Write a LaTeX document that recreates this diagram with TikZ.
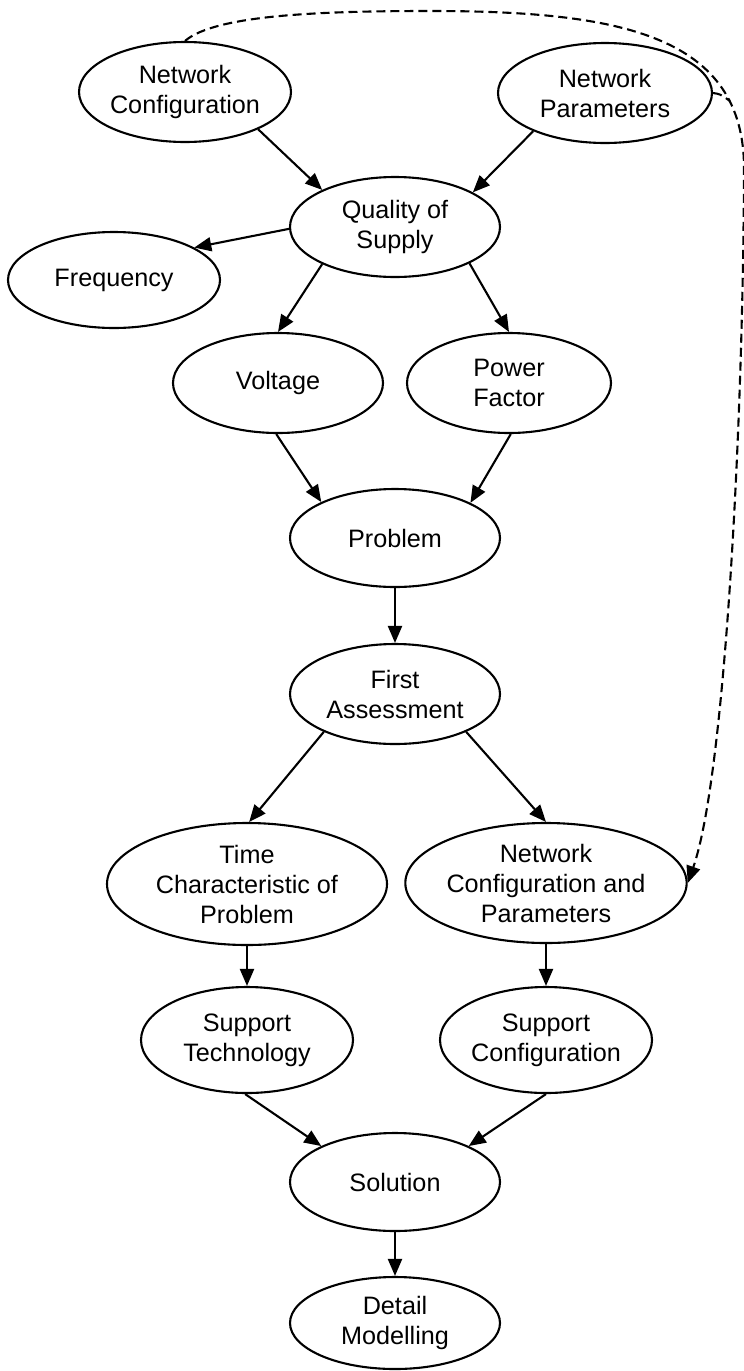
\documentclass[tikz,border=0pt]{standalone}
\usepackage{fontspec}
\setmainfont{Liberation Sans}
\usetikzlibrary{shapes.geometric,arrows.meta}
\begin{document}
\begin{tikzpicture}[x=1pt,y=-1pt,
  ell/.style={ellipse,draw,line width=2.1pt,inner sep=0pt,align=center,
    font=\fontsize{25.2}{30}\selectfont},
  tip/.style={-{Triangle[length=17pt,width=14pt]}},
  arr/.style={line width=2.1pt,tip},
  dsh/.style={line width=2.1pt,dash pattern=on 9pt off 5pt}]
\useasboundingbox (0,0) rectangle (744,1371);
\node[ell,minimum width=210pt,minimum height=100pt] (nc) at (185,92) {Network\\Configuration};
\node[ell,minimum width=214pt,minimum height=100pt] (np) at (605,93) {Network\\Parameters};
\node[ell,minimum width=210pt,minimum height=100pt] (qs) at (395,227) {Quality of\\Supply};
\node[ell,minimum width=212pt,minimum height=96pt] (fr) at (114,280) {Frequency};
\node[ell,minimum width=210pt,minimum height=100pt] (vo) at (278,383) {Voltage};
\node[ell,minimum width=204pt,minimum height=100pt] (pf) at (509,383) {Power\\Factor};
\node[ell,minimum width=210pt,minimum height=98pt] (pr) at (395,538) {Problem};
\node[ell,minimum width=210pt,minimum height=100pt] (fa) at (395,694) {First\\Assessment};
\node[ell,minimum width=280pt,minimum height=122pt] (tc) at (247,884) {Time\\Characteristic of\\Problem};
\node[ell,minimum width=280pt,minimum height=120pt] (ncp) at (546,883) {Network\\Configuration and\\Parameters};
\node[ell,minimum width=212pt,minimum height=106pt] (st) at (247,1040) {Support\\Technology};
\node[ell,minimum width=212pt,minimum height=106pt] (sc) at (546,1040) {Support\\Configuration};
\node[ell,minimum width=210pt,minimum height=98pt] (so) at (395,1182) {Solution};
\node[ell,minimum width=210pt,minimum height=92pt] (dm) at (395,1323) {Detail\\Modelling};

\draw[arr] (nc.-27.5) -- (qs.153.7);
\draw[arr] (np.208) -- (qs.24.4);
\draw[arr] (qs.181) -- (fr.22);
\draw[arr] (qs.207.5) -- (vo.north);
\draw[arr] (qs.-26) -- (pf.north);
\draw[arr] (vo.268) -- (pr.154);
\draw[arr] (pf.272) -- (pr.25);
\draw[arr] (pr.south) -- (fa.north);
\draw[arr] (fa.208) -- (tc.88);
\draw[arr] (fa.-28) -- (ncp.north);
\draw[arr] (tc.south) -- (st.north);
\draw[arr] (ncp.south) -- (sc.north);
\draw[arr] (st.268) -- (so.154);
\draw[arr] (sc.south) -- (so.26);
\draw[arr] (so.south) -- (dm.north);

\coordinate (mrg) at (730,101);
\draw[dsh,tip] (nc.north) .. controls (215,15) and (320,11) .. (430,11)
  .. controls (620,11) and (745,35) .. (744,170)
  .. controls (743,440) and (724,780) .. (ncp.east);
\draw[dsh] (np.east) .. controls (720,94) .. (mrg);
\end{tikzpicture}
\end{document}
